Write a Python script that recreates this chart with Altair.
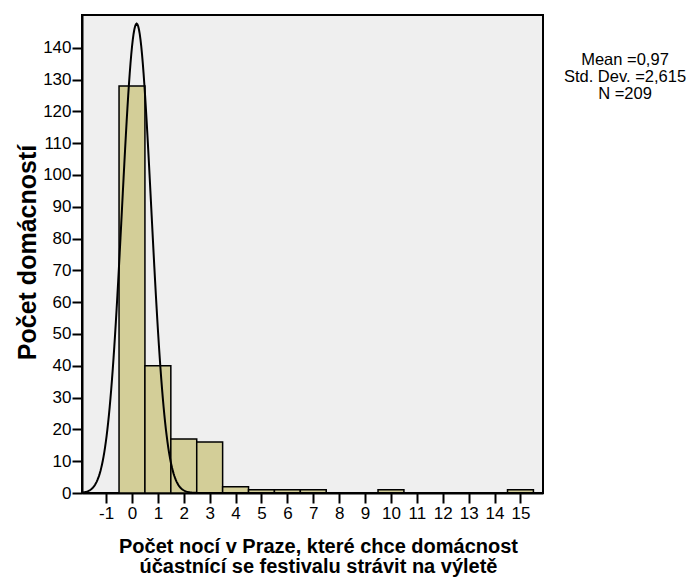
import altair as alt
import numpy as np
import pandas as pd

# Histogram data (value -> number of households)
nights = [0, 1, 2, 3, 4, 5, 6, 7, 10, 15]
counts = [128, 40, 17, 16, 2, 1, 1, 1, 1, 1]

x_ticks = list(range(-1, 16))
y_ticks = list(range(0, 141, 10))

# Normal curve overlay parameters (as drawn)
curve_mean = 0.18
curve_sd = 0.565
curve_n = 209
bin_width = 1.0

stats_lines = ["Mean =0,97", "Std. Dev. =2,615", "N =209"]

x_domain = [-1.93, 15.87]
y_domain = [0, 150.3]

bars_df = pd.DataFrame({"v": nights, "count": counts})
bars_df["lo"] = bars_df["v"] - 0.5
bars_df["hi"] = bars_df["v"] + 0.5
bars_df["base"] = 0

xs = np.linspace(x_domain[0], x_domain[1], 600)
ys = curve_n * bin_width / (curve_sd * np.sqrt(2 * np.pi)) * np.exp(-0.5 * ((xs - curve_mean) / curve_sd) ** 2)
curve_df = pd.DataFrame({"x": xs, "y": ys})

FONT = "Liberation Sans"

xscale = alt.Scale(domain=x_domain, nice=False, zero=False)
yscale = alt.Scale(domain=y_domain, nice=False, zero=False)

x_axis = alt.Axis(
    values=x_ticks, labelExpr="'' + datum.value", labelOverlap=False, labelBound=False,
    labelFlush=False,
    title=["Počet nocí v Praze, které chce domácnost",
           "účastnící se festivalu strávit na výletě"],
    titleFontSize=20, titleFontWeight="bold", titleFont=FONT, titleColor="black",
    titleBaseline="alphabetic", titleX=236, titleY=59, titleLineHeight=20.5,
    titleAlign="center", titleAnchor="middle",
    labelPadding=2, tickSize=10,
)
y_axis = alt.Axis(
    values=y_ticks, labelExpr="'' + datum.value", labelOverlap=False, labelBound=False,
    labelFlush=False,
    title="Počet domácností",
    titleFontSize=25, titleFontWeight="bold", titleFont=FONT, titleColor="black",
    titleX=-55, titleY=237, titleAngle=-90, titleBaseline="middle", titleAlign="center",
    labelPadding=1, tickSize=10,
)

bars = alt.Chart(bars_df).mark_rect(
    fill="#D3CE98", stroke="black", strokeWidth=1.5
).encode(
    x=alt.X("lo:Q", scale=xscale, axis=x_axis),
    x2="hi:Q",
    y=alt.Y("count:Q", scale=yscale, axis=y_axis),
    y2="base:Q",
)

curve = alt.Chart(curve_df).mark_line(color="black", strokeWidth=2, clip=True).encode(
    x=alt.X("x:Q", scale=xscale, axis=x_axis),
    y=alt.Y("y:Q", scale=yscale, axis=y_axis),
)

stats = alt.Chart(pd.DataFrame({"a": [0]})).mark_text(
    font=FONT, fontSize=16.5, color="black", align="center", baseline="alphabetic", lineHeight=17
).encode(
    x=alt.value(543),
    y=alt.value(50),
    text=alt.value(stats_lines),
)

chart = alt.layer(bars, curve, stats).properties(
    width=461, height=478,
    autosize=alt.AutoSizeParams(type="none"),
    padding={"left": 74, "top": 7, "right": 145, "bottom": 85},
).configure_view(
    fill="#EFEFEF", stroke="black", strokeWidth=2
).configure_axis(
    grid=False, domainColor="black", domainWidth=2, tickColor="black", tickWidth=2,
    labelFont=FONT, labelFontSize=17, labelColor="black", labelOverlap=False,
)

chart.save("out.html", embed_options={"renderer": "svg", "actions": False})
